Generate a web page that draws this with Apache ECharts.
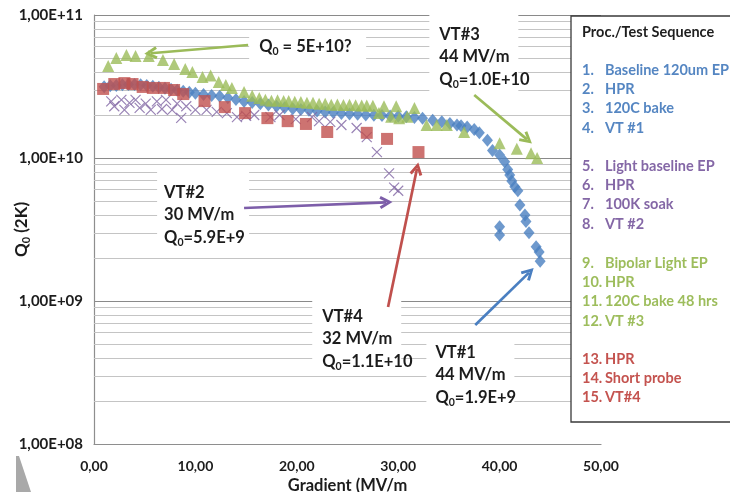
<!DOCTYPE html>
<html>
<head>
<meta charset="utf-8">
<script src="https://cdn.jsdelivr.net/npm/echarts@6.0.0/dist/echarts.min.js"></script>
<style>
  html, body { margin: 0; padding: 0; background: #ffffff; }
  #chart { width: 730px; height: 492px; }
</style>
</head>
<body>
<div id="chart"></div>
<script>
// ---- Measured data: accelerating gradient (MV/m) vs. Q0 at 2 K ----

// VT#1: baseline 120um EP, HPR, 120C bake
const vt1Gradient = [1.0, 1.6, 2.2, 2.8, 3.4, 4.0, 4.6, 5.2, 5.8, 6.4, 7.0, 7.6, 8.2, 8.8, 9.4, 10.0,
  10.8, 11.6, 12.4, 13.2, 14.0, 14.8, 15.6, 16.4, 17.2, 18.0, 18.8, 19.6, 20.4, 21.2, 22.0, 22.8,
  23.6, 24.4, 25.2, 26.0, 26.8, 27.6, 28.4, 29.2, 30.0, 30.8, 31.6, 32.4, 33.4, 34.3, 35.1, 35.8,
  36.2, 36.8, 37.5, 38.0, 38.8, 39.3, 40.0, 40.5, 40.8, 41.0, 41.2, 41.5, 41.8, 42.0, 42.5, 42.6,
  42.9, 40.0, 40.0, 43.6, 43.9, 44.0];
const vt1Q0 = [3.15e10, 3.2e10, 3.22e10, 3.25e10, 3.27e10, 3.27e10, 3.25e10, 3.22e10, 3.18e10, 3.12e10,
  3.07e10, 3.03e10, 2.98e10, 2.93e10, 2.88e10, 2.84e10, 2.78e10, 2.74e10, 2.70e10, 2.64e10, 2.56e10,
  2.48e10, 2.44e10, 2.40e10, 2.35e10, 2.30e10, 2.25e10, 2.21e10, 2.18e10, 2.16e10, 2.13e10, 2.10e10,
  2.08e10, 2.05e10, 2.03e10, 2.02e10, 2.0e10, 1.99e10, 1.98e10, 1.97e10, 1.96e10, 1.94e10, 1.92e10,
  1.90e10, 1.84e10, 1.79e10, 1.74e10, 1.70e10, 1.68e10, 1.65e10, 1.58e10, 1.50e10, 1.33e10, 1.13e10,
  1.05e10, 9.4e9, 8.3e9, 7.6e9, 6.9e9, 6.3e9, 5.9e9, 4.7e9, 4.0e9, 3.6e9, 3.0e9, 3.3e9, 2.9e9,
  2.4e9, 2.2e9, 1.9e9];

// VT#2: light baseline EP, HPR, 100K soak
const vt2Gradient = [1.7, 2.0, 2.7, 3.0, 3.5, 4.1, 4.5, 5.1, 5.6, 6.2, 6.7, 7.1, 7.7, 8.2, 8.6, 9.1,
  10.0, 11.1, 12.1, 13.1, 14.1, 15.0, 15.8, 17.4, 18.3, 19.9, 21.5, 22.2, 23.3, 24.4, 25.9, 26.9,
  27.9, 29.1, 29.6, 30.0];
const vt2Q0 = [2.49e10, 2.3e10, 2.55e10, 2.17e10, 2.43e10, 2.55e10, 2.24e10, 2.40e10, 2.17e10, 2.49e10,
  2.2e10, 2.55e10, 2.17e10, 2.40e10, 1.91e10, 2.30e10, 2.17e10, 2.17e10, 2.10e10, 2.06e10, 1.93e10,
  1.97e10, 2.0e10, 1.93e10, 2.0e10, 1.87e10, 1.93e10, 1.81e10, 1.79e10, 1.70e10, 1.62e10, 1.40e10,
  1.10e10, 7.8e9, 6.2e9, 5.9e9];

// VT#3: bipolar light EP, HPR, 120C bake 48 hrs
const vt3Gradient = [1.4, 2.2, 3.2, 4.1, 5.4, 6.8, 7.9, 9.0, 9.7, 10.7, 11.5, 12.3, 13.0, 13.6, 14.8,
  15.6, 16.3, 16.9, 17.5, 18.1, 18.7, 19.2, 19.8, 20.4, 21.0, 21.6, 22.2, 22.8, 23.4, 24.0, 24.6,
  25.2, 25.8, 26.4, 26.9, 27.5, 28.1, 28.6, 29.3, 29.8, 30.1, 30.9, 31.6, 32.8, 33.8, 34.8, 36.5,
  40.0, 41.7, 43.1, 43.7];
const vt3Q0 = [4.4e10, 5.0e10, 5.25e10, 5.17e10, 5.17e10, 4.85e10, 4.54e10, 4.19e10, 3.99e10, 3.68e10,
  3.77e10, 3.40e10, 3.24e10, 3.09e10, 2.90e10, 2.72e10, 2.63e10, 2.55e10, 2.51e10, 2.53e10, 2.50e10,
  2.50e10, 2.47e10, 2.46e10, 2.43e10, 2.43e10, 2.40e10, 2.40e10, 2.36e10, 2.37e10, 2.35e10, 2.36e10,
  2.34e10, 2.33e10, 2.33e10, 2.32e10, 2.06e10, 2.30e10, 1.94e10, 2.30e10, 1.90e10, 1.94e10, 2.24e10,
  1.70e10, 1.70e10, 1.70e10, 1.52e10, 1.27e10, 1.16e10, 1.08e10, 1.0e10];

// VT#4: HPR, short probe
const vt4Gradient = [0.9, 2.0, 3.0, 3.8, 4.8, 5.8, 6.9, 7.9, 8.8, 10.9, 12.9, 14.9, 17.1, 19.1, 20.9,
  23.0, 26.9, 28.9, 32.0];
const vt4Q0 = [3.04e10, 3.29e10, 3.34e10, 3.29e10, 3.14e10, 3.09e10, 3.09e10, 2.99e10, 2.80e10, 2.50e10,
  2.27e10, 2.06e10, 1.90e10, 1.81e10, 1.73e10, 1.52e10, 1.50e10, 1.36e10, 1.1e10];

// Axis ranges
const xTicks = [0, 10, 20, 30, 40, 50];
const yDecades = [1e8, 1e9, 1e10, 1e11];

// Process / test sequence listing
const sequenceTitle = 'Proc./Test Sequence';
const sequenceGroups = [
  ['1.', 'Baseline 120um EP', '2.', 'HPR', '3.', '120C bake', '4.', 'VT #1'],
  ['5.', 'Light baseline EP', '6.', 'HPR', '7.', '100K soak', '8.', 'VT #2'],
  ['9.', 'Bipolar Light EP', '10.', 'HPR', '11.', '120C bake 48 hrs', '12.', 'VT #3'],
  ['13.', 'HPR', '14.', 'Short probe', '15.', 'VT#4']
];

// ---- Styling ----
const BLUE = '#4A7FC1', PURPLE = '#8064A2', GREEN = '#9BBB59', RED = '#C0504D';
const groupColors = ['#5586C2', '#8467A6', '#9DBD5C', '#C4534F'];
const FONT = 'Lato';
const TEXT = '#1c1c1c';

const pairs = (g, q) => g.map((x, i) => [x, q[i]]);

// minor log grid lines 2..9 within each decade
const minorGrid = [];
for (let e = 8; e < 11; e++) for (let m = 2; m <= 9; m++) minorGrid.push(m * Math.pow(10, e));

// annotation boxes: centre in data space, size and text inset in px
const richSub = { s: { fontSize: 10.5, fontWeight: 'bold', fontFamily: FONT, color: TEXT, verticalAlign: 'bottom', lineHeight: 12 } };
const notes = [
  { center: [21.07, 5.97e10], size: [117, 32], pad: [10, 4], text: 'Q{s|0} = 5E+10?' },
  { center: [37.46, 5.51e10], size: [89, 80], pad: [10, 11], text: 'VT#3\n44 MV/m\nQ{s|0}=1.0E+10' },
  { center: [10.76, 4.40e9], size: [92, 74], pad: [7, 9], text: 'VT#2\n30 MV/m\nQ{s|0}=5.9E+9' },
  { center: [25.91, 5.97e8], size: [89, 72], pad: [10, 8], text: 'VT#4\n32 MV/m\nQ{s|0}=1.1E+10' },
  { center: [37.12, 3.09e8], size: [88, 72], pad: [9, 3], text: 'VT#1\n44 MV/m\nQ{s|0}=1.9E+9' }
];

// arrows from the notes toward the end points of each test
const arrows = [
  { from: [15.2, 6.17e10], to: [5.6, 5.4e10], color: GREEN },
  { from: [37.5, 2.76e10], to: [42.7, 1.35e10], color: GREEN },
  { from: [14.8, 4.47e9], to: [28.8, 4.9e9], color: '#7D5EA9' },
  { from: [29.0, 9.08e8], to: [31.85, 8.4e9], color: RED },
  { from: [37.6, 6.79e8], to: [42.9, 1.58e9], color: BLUE }
];
const chevron = 'path://M6,0L12,10.5L9.6,11.8L6,5.2L2.4,11.8L0,10.5Z';
const crossPath = 'path://M0,0L10,10M10,0L0,10';

const chart = echarts.init(document.getElementById('chart'), null, { renderer: 'canvas' });

const LEG_FONT = 14.5;
const legendGraphics = [
  { type: 'rect', z: 100, shape: { x: 571, y: 16, width: 170, height: 406 },
    style: { fill: '#ffffff', stroke: '#3a3a3a', lineWidth: 1.3 } },
  { type: 'text', z: 101, x: 582, y: 32,
    style: { text: sequenceTitle, fill: '#1e1e1e', fontFamily: FONT, fontSize: LEG_FONT, fontWeight: 'bold', verticalAlign: 'middle' } }
];
const groupStart = [70, 166, 263, 359];
sequenceGroups.forEach((grp, gi) => {
  for (let k = 0; k < grp.length; k += 2) {
    const y = groupStart[gi] + (k / 2) * 19.3;
    legendGraphics.push({ type: 'text', z: 101, x: 582, y: y,
      style: { text: grp[k], fill: groupColors[gi], fontFamily: FONT, fontSize: LEG_FONT, fontWeight: 'bold', verticalAlign: 'middle' } });
    legendGraphics.push({ type: 'text', z: 101, x: 605, y: y,
      style: { text: grp[k + 1], fill: groupColors[gi], fontFamily: FONT, fontSize: LEG_FONT, fontWeight: 'bold', verticalAlign: 'middle' } });
  }
});
// scanner shadow in the lower-left corner
legendGraphics.push({ type: 'polygon', z: 100, shape: { points: [[16, 456], [19, 456], [31, 492], [16, 492]] },
  style: { fill: '#a9a9a9' } });

const scatterBase = { type: 'scatter', z: 3, animation: false, silent: true };

chart.setOption({
  animation: false,
  backgroundColor: '#ffffff',
  textStyle: { fontFamily: FONT },
  grid: { left: 94, right: 129, top: 15, bottom: 48, containLabel: false, outerBoundsMode: 'none' },
  xAxis: {
    type: 'value', min: xTicks[0], max: xTicks[xTicks.length - 1], interval: 10,
    axisLine: { show: true, lineStyle: { color: '#8e8e8e', width: 1.2 } },
    axisTick: { show: false },
    splitLine: { show: false },
    axisLabel: { margin: 15, color: TEXT, fontFamily: FONT, fontSize: 14, fontWeight: 'bold',
      formatter: v => v.toFixed(2).replace('.', ',') },
    name: 'Gradient (MV/m', nameLocation: 'middle', nameGap: 33, nameMoveOverlap: false,
    nameTextStyle: { color: TEXT, fontFamily: FONT, fontSize: 16.5, fontWeight: 'bold', verticalAlign: 'top' }
  },
  yAxis: {
    type: 'log', logBase: 10, min: yDecades[0], max: yDecades[yDecades.length - 1],
    axisLine: { show: true, lineStyle: { color: '#8e8e8e', width: 1.2 } },
    axisTick: { show: false },
    splitLine: { show: true, lineStyle: { color: '#8a8a8a', width: 1.2 } },
    axisLabel: { margin: 11, color: TEXT, fontFamily: FONT, fontSize: 15, fontWeight: 'bold',
      formatter: v => { const e = Math.round(Math.log10(v)); return '1,00E+' + (e < 10 ? '0' + e : e); } },
    name: 'Q{s|0} (2K)', nameLocation: 'middle', nameGap: 72, nameRotate: 90, nameMoveOverlap: false,
    nameTextStyle: { color: TEXT, fontFamily: FONT, fontSize: 17, fontWeight: 'bold', lineHeight: 20,
      verticalAlign: 'middle',
      rich: { s: { fontSize: 11, fontWeight: 'bold', fontFamily: FONT, color: TEXT, verticalAlign: 'bottom', lineHeight: 12 } } }
  },
  series: [
    { // minor grid lines
      type: 'line', data: [], silent: true, animation: false,
      markLine: {
        z: 1, silent: true, animation: false, symbol: ['none', 'none'], label: { show: false },
        lineStyle: { color: '#c4c4c4', width: 1.2, type: 'solid' },
        emphasis: { disabled: true },
        data: minorGrid.map(v => ({ yAxis: v }))
      }
    },
    { // white note boxes with their text
      type: 'scatter', data: [], silent: true, animation: false,
      markPoint: {
        z: 2, silent: true, animation: false,
        data: notes.map(n => ({
          coord: n.center, symbol: 'rect', symbolSize: n.size,
          itemStyle: { color: '#ffffff' },
          label: { show: true, position: n.pad, align: 'left', verticalAlign: 'top',
            formatter: n.text, color: TEXT, fontFamily: FONT, fontSize: 16.5, fontWeight: 'bold',
            lineHeight: 22.5, rich: richSub }
        }))
      }
    },
    Object.assign({}, scatterBase, { name: 'VT#1', data: pairs(vt1Gradient, vt1Q0), symbol: 'diamond',
      symbolSize: [11, 13], itemStyle: { color: BLUE } }),
    Object.assign({}, scatterBase, { name: 'VT#2', data: pairs(vt2Gradient, vt2Q0), symbol: crossPath,
      symbolSize: 10, itemStyle: { color: 'rgba(0,0,0,0)', borderColor: PURPLE, borderWidth: 1.2 } }),
    Object.assign({}, scatterBase, { name: 'VT#3', data: pairs(vt3Gradient, vt3Q0), symbol: 'triangle',
      symbolSize: [12, 12], itemStyle: { color: GREEN } }),
    Object.assign({}, scatterBase, { name: 'VT#4', data: pairs(vt4Gradient, vt4Q0), symbol: 'rect',
      symbolSize: 12, itemStyle: { color: RED } }),
    { // arrows
      type: 'line', data: [], silent: true, animation: false,
      markLine: {
        z: 6, silent: true, animation: false, label: { show: false }, emphasis: { disabled: true },
        symbol: ['none', chevron], symbolSize: 13,
        data: arrows.map(a => [
          { coord: a.from, lineStyle: { color: a.color, width: 2.7, type: 'solid' }, itemStyle: { color: a.color } },
          { coord: a.to }
        ])
      }
    }
  ],
  graphic: legendGraphics
});
</script>
</body>
</html>
